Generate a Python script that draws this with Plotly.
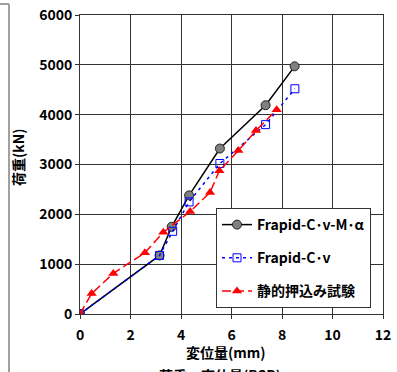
import plotly.graph_objects as go

# Data
x_mal = [0, 3.15, 3.63, 4.32, 5.54, 7.35, 8.50]
y_mal = [0, 1175, 1750, 2380, 3320, 4190, 4970]

x_cv = [0, 3.15, 3.67, 4.32, 5.54, 7.35, 8.51]
y_cv = [0, 1175, 1660, 2250, 3020, 3800, 4520]

x_st = [0, 0.46, 1.32, 2.57, 3.30, 4.36, 5.15, 5.52, 6.27, 6.97, 7.79]
y_st = [0, 410, 815, 1230, 1640, 2055, 2440, 2875, 3280, 3680, 4100]

names = ["Frapid-C･v-M･α", "Frapid-C･v", "静的押込み試験"]
x_ticks = [0, 2, 4, 6, 8, 10, 12]
y_ticks = [0, 1000, 2000, 3000, 4000, 5000, 6000]

FONT = "Noto Sans CJK JP"

fig = go.Figure()
fig.add_trace(go.Scatter(
    x=x_mal, y=y_mal, name=names[0], legendgroup="a", mode="lines+markers",
    line=dict(color="black", width=1.5),
    marker=dict(symbol="circle", size=9, color="#808080", line=dict(color="#222", width=1))))
fig.add_trace(go.Scatter(
    x=x_cv, y=y_cv, name=names[1], legendgroup="b", mode="lines+markers",
    line=dict(color="#0000ff", width=1.5, dash="3px,4px"),
    marker=dict(symbol="square-open", size=8, color="#0000ff", line=dict(width=1))))
fig.add_trace(go.Scatter(
    x=x_st, y=y_st, name=names[2], legendgroup="c", mode="lines+markers",
    line=dict(color="#ff0000", width=1.5, dash="9px,4px"),
    marker=dict(symbol="triangle-up", size=9, color="#ff0000")))

axis_common = dict(
    showgrid=True, gridcolor="#333", gridwidth=1,
    showline=True, linecolor="#333", linewidth=1, mirror=True,
    ticks="outside", ticklen=4, tickcolor="#333",
    zeroline=False,
    tickfont=dict(family=FONT, size=14, color="black", weight="bold"),
)
fig.update_xaxes(range=[0, 12], tickvals=x_ticks, ticklabelstandoff=4, **axis_common)
fig.update_yaxes(range=[0, 6000], tickvals=y_ticks, **axis_common)

L, R, T, B = 80, 14, 15, 58
W, H = 397, 372
pw, ph = W - L - R, H - T - B

def px(xp):
    return (xp - L) / pw

def py(yp):
    return (H - B - yp) / ph

fig.update_layout(
    width=W, height=H,
    margin=dict(l=L, r=R, t=T, b=B, autoexpand=False),
    paper_bgcolor="white", plot_bgcolor="white",
    font=dict(family=FONT, size=14, color="black"),
    showlegend=True,
    legend=dict(
        x=px(216), y=py(208), xanchor="left", yanchor="top",
        bgcolor="white", bordercolor="#333", borderwidth=1,
        font=dict(family=FONT, size=14, color="black", weight="bold"),
        traceorder="grouped", tracegroupgap=12, itemwidth=30,
    ),
    annotations=[
        dict(text="荷重(kN)", textangle=-90, xref="paper", yref="paper",
             x=px(18), y=py(157), xanchor="center", yanchor="middle", showarrow=False,
             font=dict(family=FONT, size=14, weight="bold")),
        dict(text="変位量(mm)", xref="paper", yref="paper",
             x=px(226), y=py(352), xanchor="center", yanchor="middle", showarrow=False,
             font=dict(family=FONT, size=14, weight="bold")),
        dict(text="荷重－変位量(BSP)", xref="paper", yref="paper",
             x=px(220), y=py(375), xanchor="center", yanchor="middle", showarrow=False,
             font=dict(family=FONT, size=14, weight="bold")),
    ],
    shapes=[
        dict(type="line", xref="paper", yref="paper",
             x0=px(9), x1=px(9), y0=py(4), y1=py(380),
             line=dict(color="#a0a0a0", width=2)),
        dict(type="line", xref="paper", yref="paper",
             x0=px(-2), x1=px(9), y0=py(4), y1=py(4),
             line=dict(color="#a0a0a0", width=2)),
    ],
)

fig.write_html("out.html")
